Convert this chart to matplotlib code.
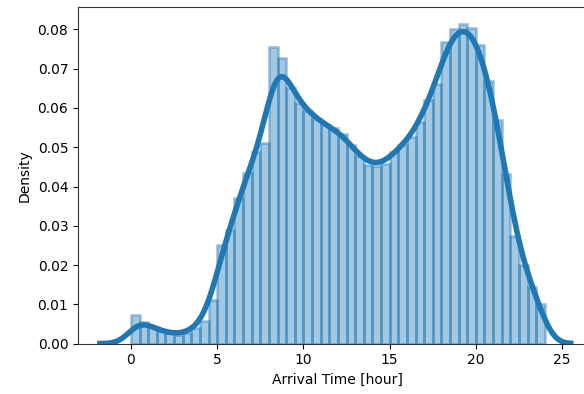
import math

import numpy as np
import matplotlib
matplotlib.use("Agg")
import matplotlib.pyplot as plt

# ------------------------------
# Arrival-time histogram (density per half-hour bin, 0h .. 24h)
# ------------------------------

bin_width = 0.5
bin_edges = np.arange(0, 24 + bin_width, bin_width)

density = [
    0.0074, 0.0054, 0.0042, 0.0031, 0.0026, 0.0023, 0.0026, 0.0039,
    0.0058, 0.0112, 0.0250, 0.0290, 0.0370, 0.0435, 0.0488, 0.0512,
    0.0755, 0.0727, 0.0650, 0.0612, 0.0592, 0.0573, 0.0557, 0.0548,
    0.0535, 0.0505, 0.0478, 0.0455, 0.0452, 0.0457, 0.0488, 0.0505,
    0.0525, 0.0565, 0.0620, 0.0660, 0.0767, 0.0800, 0.0815, 0.0805,
    0.0760, 0.0670, 0.0570, 0.0433, 0.0275, 0.0200, 0.0143, 0.0102,
]

bandwidth = 0.6
color = "#1f77b4"


# ------------------------------
# Gaussian KDE of the binned data
# (each bin treated as uniform mass)
# ------------------------------

def kde_from_bins(x, edges, dens, bw):
    erf = np.vectorize(math.erf)
    y = np.zeros_like(x)
    for a, b, d in zip(edges[:-1], edges[1:], dens):
        y += d * 0.5 * (erf((x - a) / (bw * np.sqrt(2)))
                        - erf((x - b) / (bw * np.sqrt(2))))
    return y


x_kde = np.linspace(bin_edges[0] - 3 * bandwidth,
                    bin_edges[-1] + 3 * bandwidth - 0.3, 400)
y_kde = kde_from_bins(x_kde, bin_edges, density, bandwidth)

# ------------------------------
# Plot
# ------------------------------

fig = plt.figure(figsize=(5.84, 3.94), dpi=100)
ax = fig.add_axes([0.1336, 0.128, 0.890, 0.853])

ax.hist(bin_edges[:-1], bins=bin_edges, weights=density,
        color=color, alpha=0.4, edgecolor=color, linewidth=2.0)
ax.plot(x_kde, y_kde, color=color, linewidth=4)

ax.set_xlim(-3.07, 27.07)
ax.set_ylim(0, 0.0856)
ax.set_xticks([0, 5, 10, 15, 20, 25])
ax.set_yticks(np.arange(0, 0.081, 0.01))
ax.yaxis.set_major_formatter(matplotlib.ticker.FormatStrFormatter("%.2f"))

for spine in ax.spines.values():
    spine.set_color("#333333")

ax.set_xlabel("Arrival Time [hour]")
ax.set_ylabel("Density")

plt.savefig("out.png", dpi=100)
